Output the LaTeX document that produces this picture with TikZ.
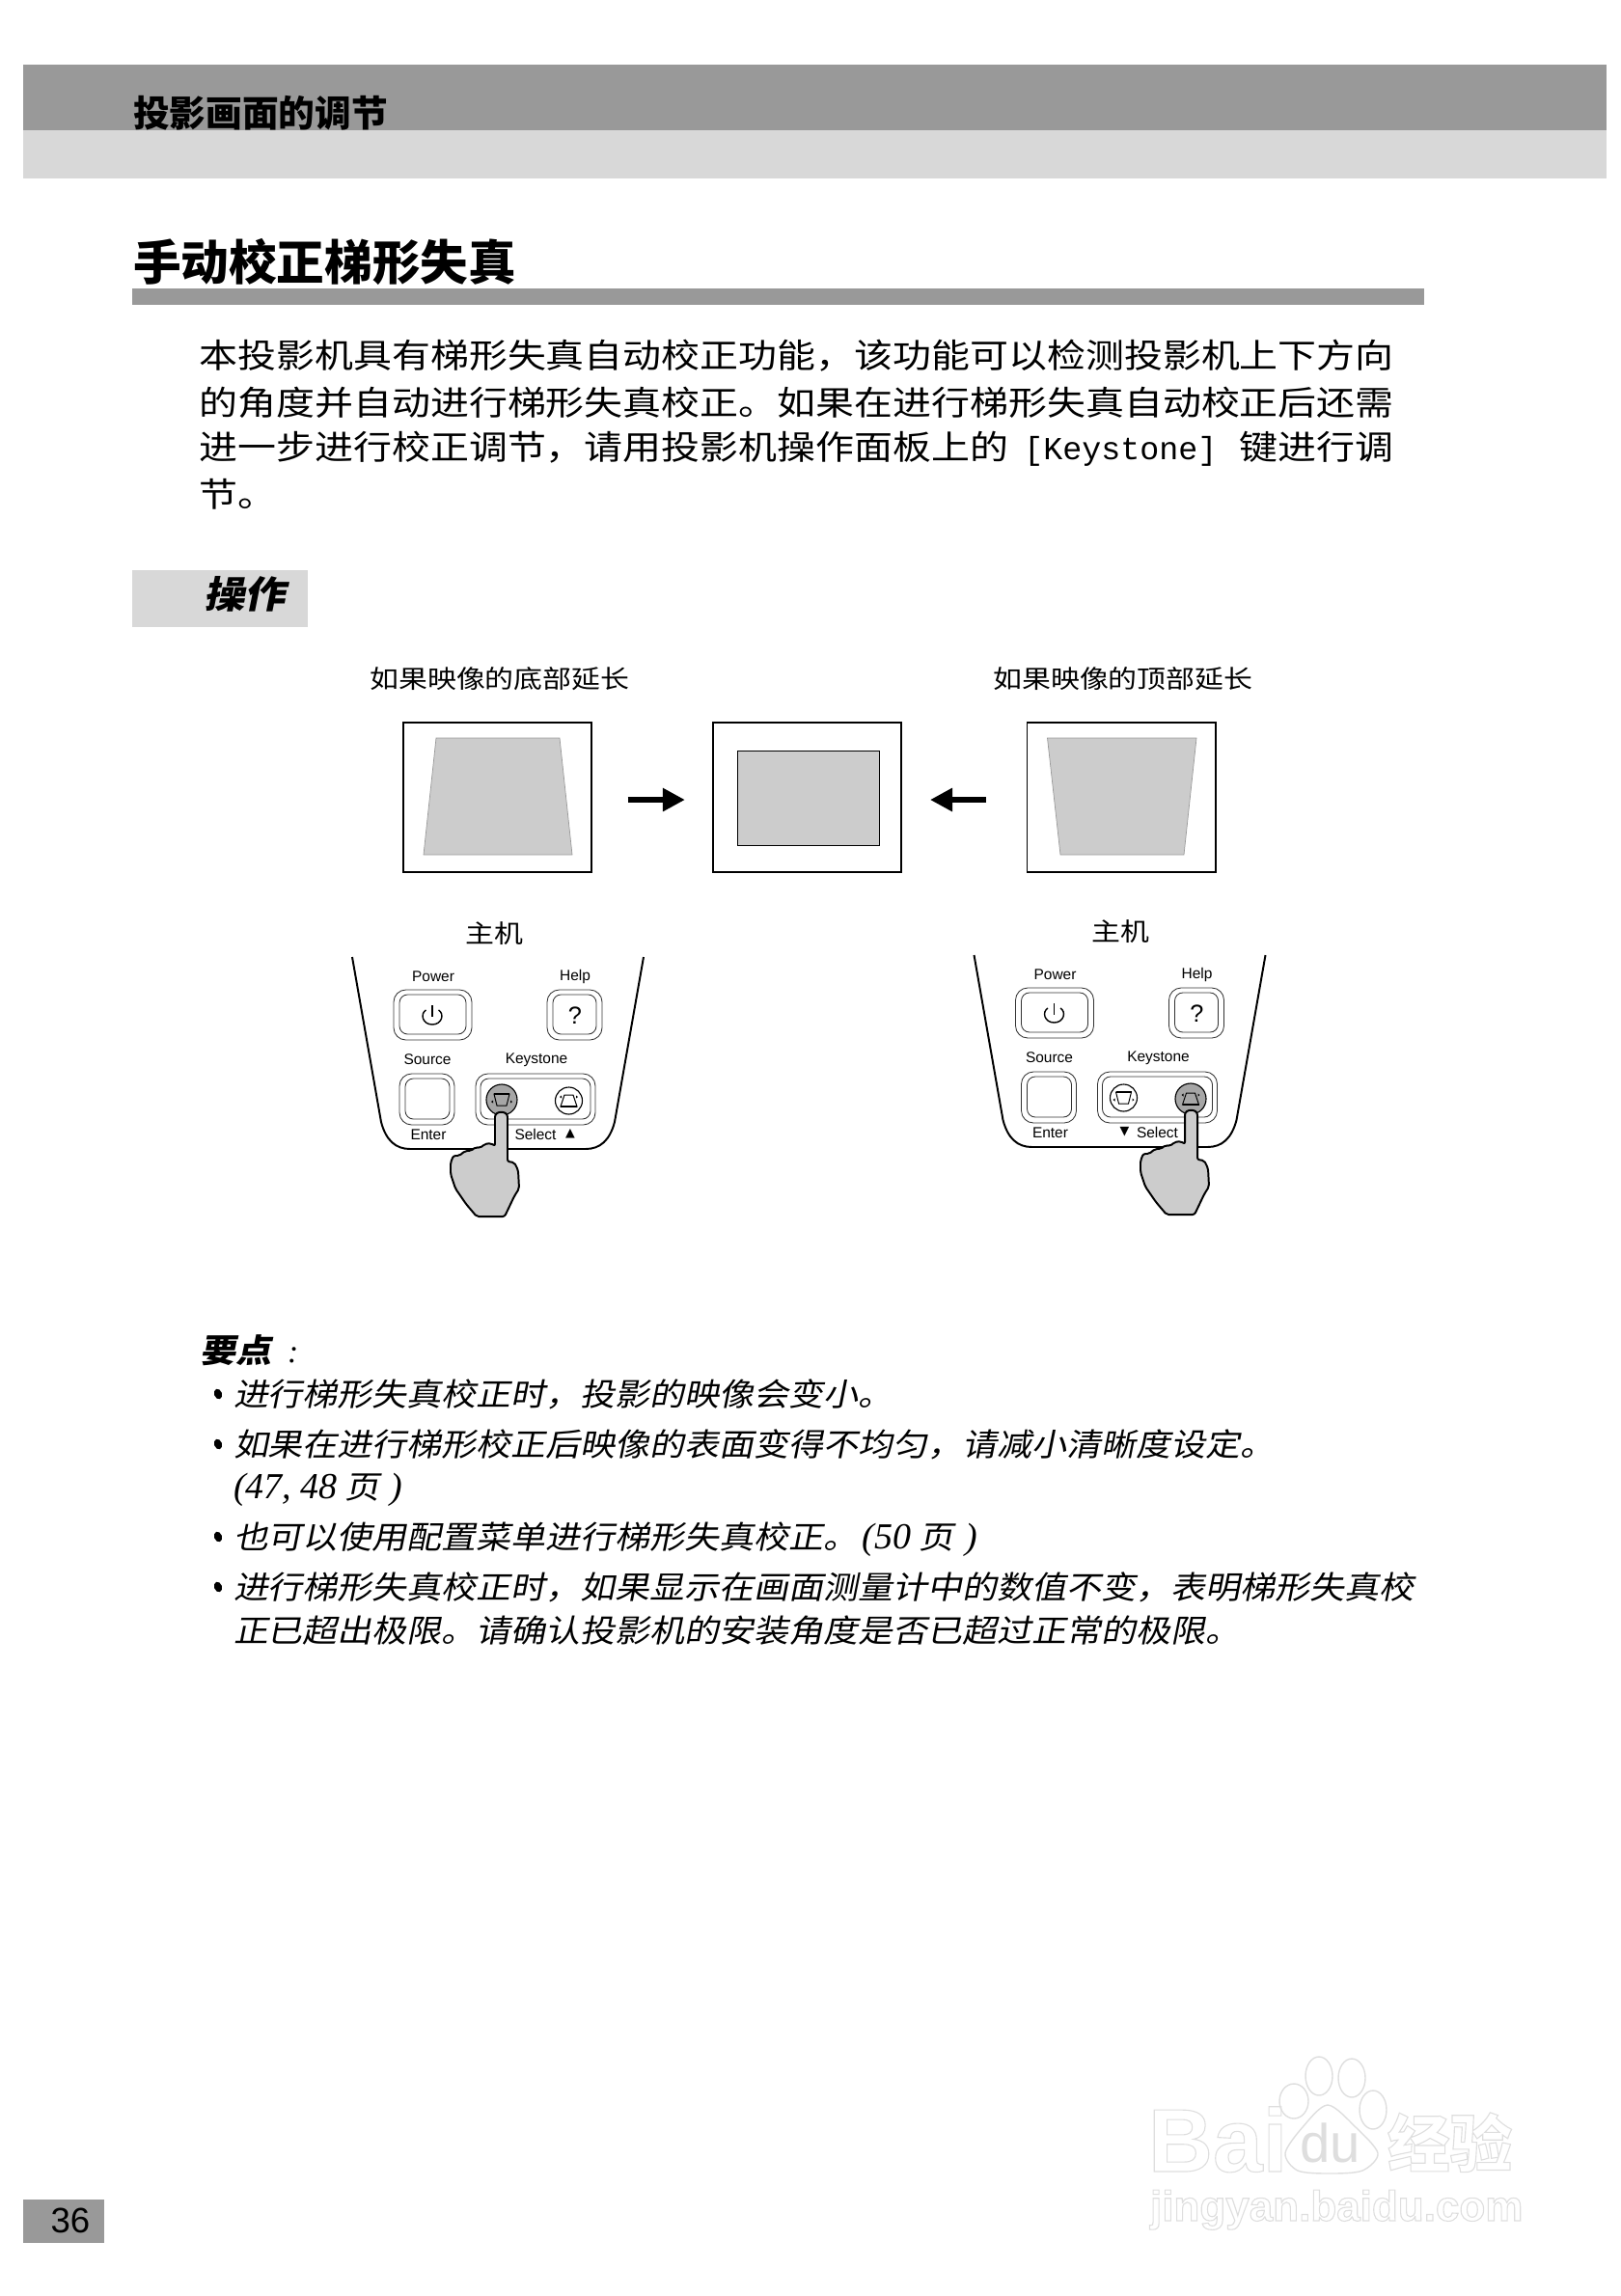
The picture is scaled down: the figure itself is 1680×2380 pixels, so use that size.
\documentclass[tikz,border=0pt]{standalone}
\usepackage{fontspec}
\usetikzlibrary{arrows.meta, calc}
\setmainfont{Liberation Sans}
\newfontfamily\cjk[FakeStretch=1.15]{Noto Sans CJK SC}
\newfontfamily\cjkplain{Noto Sans CJK SC}
\newfontfamily\cjkit[FakeStretch=1.1,FakeSlant=0.2]{Noto Sans CJK SC}
\newfontfamily\cjkbi[FakeStretch=1.1,FakeSlant=0.2]{Noto Sans CJK SC}
\newfontfamily\monokw{Liberation Mono}
\newfontfamily\serifit{Liberation Serif}
\newfontfamily\symb{DejaVu Sans}
\definecolor{bardark}{HTML}{999999}
\definecolor{barlight}{HTML}{D8D8D8}
\definecolor{screengray}{HTML}{CCCCCC}
\definecolor{pressgray}{HTML}{A6A6A6}
\definecolor{wmgray}{HTML}{DEDEDE}
\tikzset{
  txtline/.style={anchor=base west, inner sep=0pt, outer sep=0pt},
  lbl/.style={inner sep=0pt, font=\fontsize{11}{11}\selectfont},
  screenframe/.style={draw, line width=1.4pt, inner sep=0pt, minimum width=4.875cm, minimum height=3.875cm},
  screenfill/.style={fill=screengray, draw=bardark, line width=0.5pt},
  blockarrow/.style={line width=4.3pt, -{Triangle[length=16.4pt,width=16.4pt]}},
  btn/.style={draw=black!80, line width=0.6pt, rounded corners=9pt},
  btnin/.style={draw=black!80, line width=0.6pt, rounded corners=6pt},
  handfill/.style={fill=screengray, draw=black, line width=1.4pt, line join=round}
}
\begin{document}
\begin{tikzpicture}[x=0.025cm, y=-0.025cm]
\useasboundingbox (0,0) rectangle (1680,2380);

% Page header
\fill[bardark] (24,67) rectangle (1665,135);
\fill[barlight] (24,135) rectangle (1665,185);
\node[txtline, font=\cjkplain\bfseries\fontsize{26.8}{26.8}\selectfont] (head) at (138,131) {投影画面的调节};

% Section title
\node[txtline, font=\cjkplain\bfseries\fontsize{35.3}{35.3}\selectfont] (title) at (138,290) {手动校正梯形失真};
\fill[bardark] (137,299) rectangle (1476,316);

% Intro text
\foreach \i/\yy/\txt in {
  1/381.5/{本投影机具有梯形失真自动校正功能，该功能可以检测投影机上下方向},
  2/430/{的角度并自动进行梯形失真校正。如果在进行梯形失真自动校正后还需},
  3/476.5/{进一步进行校正调节，请用投影机操作面板上的\hspace{5pt} {\monokw\fontsize{23.7}{23.7}\selectfont [Keystone]} \hspace{10pt}键进行调},
  4/525/{节。}} {
    \node[txtline, font=\cjk\fontsize{24.7}{24.7}\selectfont] (intro\i) at (206.5,\yy) {\txt};
}

% Operation tag
\fill[barlight] (137,591) rectangle (319,650);
\node[txtline, font=\cjkbi\bfseries\fontsize{27.5}{27.5}\selectfont] (optag) at (211,630) {操作};

% Screens
\node[lbl, anchor=base west, font=\cjk\fontsize{18.5}{18.5}\selectfont] (capa) at (383,713) {如果映像的底部延长};
\node[lbl, anchor=base west, font=\cjk\fontsize{18.5}{18.5}\selectfont] (capc) at (1029,713) {如果映像的顶部延长};
\node[screenframe] (fa) at (515.5,826.5) {};
\node[screenframe] (fb) at (836.5,826.5) {};
\node[screenframe] (fc) at (1162,826.5) {};
\draw[screenfill] (452,765) -- (580,765) -- (593,886) -- (439,886) -- cycle;
\draw[fill=screengray, line width=0.6pt] (764,778) rectangle (911,876);
\draw[screenfill] (1085.5,765) -- (1240,765) -- (1227,886) -- (1099,886) -- cycle;
\draw[blockarrow, shorten <=26pt, shorten >=20pt] ([yshift=-1.8pt]fa.east) -- ([yshift=-1.8pt]fb.west);
\draw[blockarrow, shorten <=29.5pt, shorten >=20.6pt] ([yshift=-1.8pt]fc.west) -- ([yshift=-1.8pt]fb.east);

% Control panels
\foreach \i/\px/\py/\hostx/\lf/\rf/\lr/\rr/\fx/\trix/\tri in {
  1/340/930/172/pressgray/white/16/14/180/251/▲,
  2/984.5/928/176.5/white/pressgray/14/16/250.5/181/▼} {
\begin{scope}[shift={(\px,\py)}]
\node[inner sep=0pt, font=\cjk\fontsize{18.5}{18.5}\selectfont] (host\i) at (\hostx,38) {主机};
\draw[line width=1.4pt] (25,62) -- (55,233) .. controls (60,252) and (70,261) .. (85,261)
  -- (267,261) .. controls (282,261) and (292,252) .. (297,233) -- (327,62);
% buttons
\draw[btn] (68,96) rectangle (149,148);
\draw[btnin] (74,101) rectangle (143,142);
\draw[btn] (227,96) rectangle (284,148);
\draw[btnin] (233,101) rectangle (278,142);
\draw[btn] (74,183) rectangle (131,236);
\draw[btnin] (80,188) rectangle (126,230);
\draw[btn] (153,183) rectangle (277,236);
\draw[btnin] (158,188) rectangle (272,230);
\draw[line width=1pt] (101.5,117) .. controls (95,121) and (98,132) .. (108,132)
  .. controls (118,132) and (121,121) .. (114.5,117);
\draw[line width=1pt] (108,112) -- (108,124);
\node[inner sep=0pt, font=\fontsize{18}{18}\selectfont] (help\i) at (256,123) {?};
\node[lbl] (lpow\i) at (109,82) {Power};
\node[lbl] (lhelp\i) at (256,82) {Help};
\node[lbl] (lsrc\i) at (103,168) {Source};
\node[lbl] (lkey\i) at (216,169) {Keystone};
\node[lbl] (lent\i) at (104,246) {Enter};
\node[lbl] (lsel\i) at (215,246) {Select};
\node[inner sep=0pt, font=\symb\fontsize{9}{9}\selectfont] (ltri\i) at (\trix,245) {\tri};
% keystone keys
\draw[line width=0.8pt, fill=\lf] (180,210) circle (\lr);
\draw[line width=0.8pt, fill=\rf] (249.5,211) circle (\rr);
\draw[line width=0.7pt] (172,204) -- (188,204) -- (185,216) -- (175,216) -- cycle;
\draw[line width=1.4pt] (172,204) -- (188,204);
\draw[line width=0.7pt] (245,205) -- (254,205) -- (258,217) -- (241,217) -- cycle;
\draw[line width=1.4pt] (241,217) -- (258,217);
\fill (169,212) -- (171,210.5) -- (171,213.5) -- cycle;
\fill (191,212) -- (189,210.5) -- (189,213.5) -- cycle;
\fill (240,207) -- (242,205.5) -- (242,208.5) -- cycle;
\fill (259,207) -- (257,205.5) -- (257,208.5) -- cycle;
% hand
\begin{scope}[xshift=\fx*0.025cm]
\filldraw[handfill, rounded corners=1.5pt] (-7,230) .. controls (-7,221) and (6,221) .. (6,230)
  -- (6,274) -- (13,275) -- (17,283) -- (18,302) -- (13,310) -- (3,331) -- (-26,331) -- (-37,318)
  -- (-48,302) -- (-53,287) -- (-53,275) -- (-50,268) -- (-44,268) -- (-38,263) -- (-32,263)
  -- (-27,259) -- (-22,260) -- (-18,256) -- (-11,255) -- (-7,258) -- cycle;
\end{scope}
\end{scope}
}

% Notes
\node[txtline, font=\cjkbi\bfseries\fontsize{24}{24}\selectfont] (noteh) at (207,1412) {要点};
\node[txtline, font=\serifit\itshape\fontsize{24}{24}\selectfont] (notec) at (298,1412) {:};
\foreach \i/\yy/\txt in {
  1/1457/{进行梯形失真校正时，投影的映像会变小。},
  2/1509/{如果在进行梯形校正后映像的表面变得不均匀，请减小清晰度设定。},
  3/1553/{{\serifit\itshape\fontsize{27}{27}\selectfont (47, 48} 页 \hspace{2pt}{\serifit\itshape\fontsize{27}{27}\selectfont )}},
  4/1605/{也可以使用配置菜单进行梯形失真校正。\hspace{3pt}{\serifit\itshape\fontsize{27}{27}\selectfont (50} 页 \hspace{3pt}{\serifit\itshape\fontsize{27}{27}\selectfont )}},
  5/1657/{进行梯形失真校正时，如果显示在画面测量计中的数值不变，表明梯形失真校},
  6/1702/{正已超出极限。请确认投影机的安装角度是否已超过正常的极限。}} {
    \node[txtline, font=\cjkit\fontsize{23.26}{23.26}\selectfont] (note\i) at (242,\yy) {\txt};
}
\foreach \i/\yy in {1/1445, 2/1497, 4/1593, 5/1645} {
    \fill[rotate around={20:(226,\yy)}] (226,\yy) ellipse [x radius=4, y radius=5.5];
}

% Page number
\fill[bardark] (24,2280) rectangle (108,2325);
\node[inner sep=0pt, font=\fontsize{26}{26}\selectfont] (pageno) at (73,2302) {36};

% Watermark
\begin{scope}[wmgray, line width=1pt]
\draw plot[smooth cycle] coordinates {(1376,2182) (1350,2205) (1332,2232) (1345,2250) (1378,2253) (1412,2250) (1428,2232) (1405,2205)};
\draw (1341,2178) ellipse [x radius=15, y radius=18];
\draw (1367,2152) ellipse [x radius=14, y radius=20];
\draw (1401,2154) ellipse [x radius=14, y radius=20];
\draw (1423,2187) ellipse [x radius=14, y radius=20];
\end{scope}
\node[txtline, font=\bfseries\fontsize{66}{66}\selectfont] (wmbai) at (1190,2251) {\special{pdf:code q 1 Tr 0.8 w 0.87 G}Bai\special{pdf:code Q}};
\node[txtline, font=\fontsize{40}{40}\selectfont, text=wmgray] (wmdu) at (1347,2241) {du};
\node[txtline, font=\cjkplain\bfseries\fontsize{46}{46}\selectfont] (wmjy) at (1438,2246) {\special{pdf:code q 1 Tr 0.8 w 0.87 G}经验\special{pdf:code Q}};
\node[txtline, font=\bfseries\fontsize{31.3}{31.3}\selectfont] (wmurl) at (1192,2302) {\special{pdf:code q 1 Tr 0.8 w 0.87 G}jingyan.baidu.com\special{pdf:code Q}};
\end{tikzpicture}
\end{document}
